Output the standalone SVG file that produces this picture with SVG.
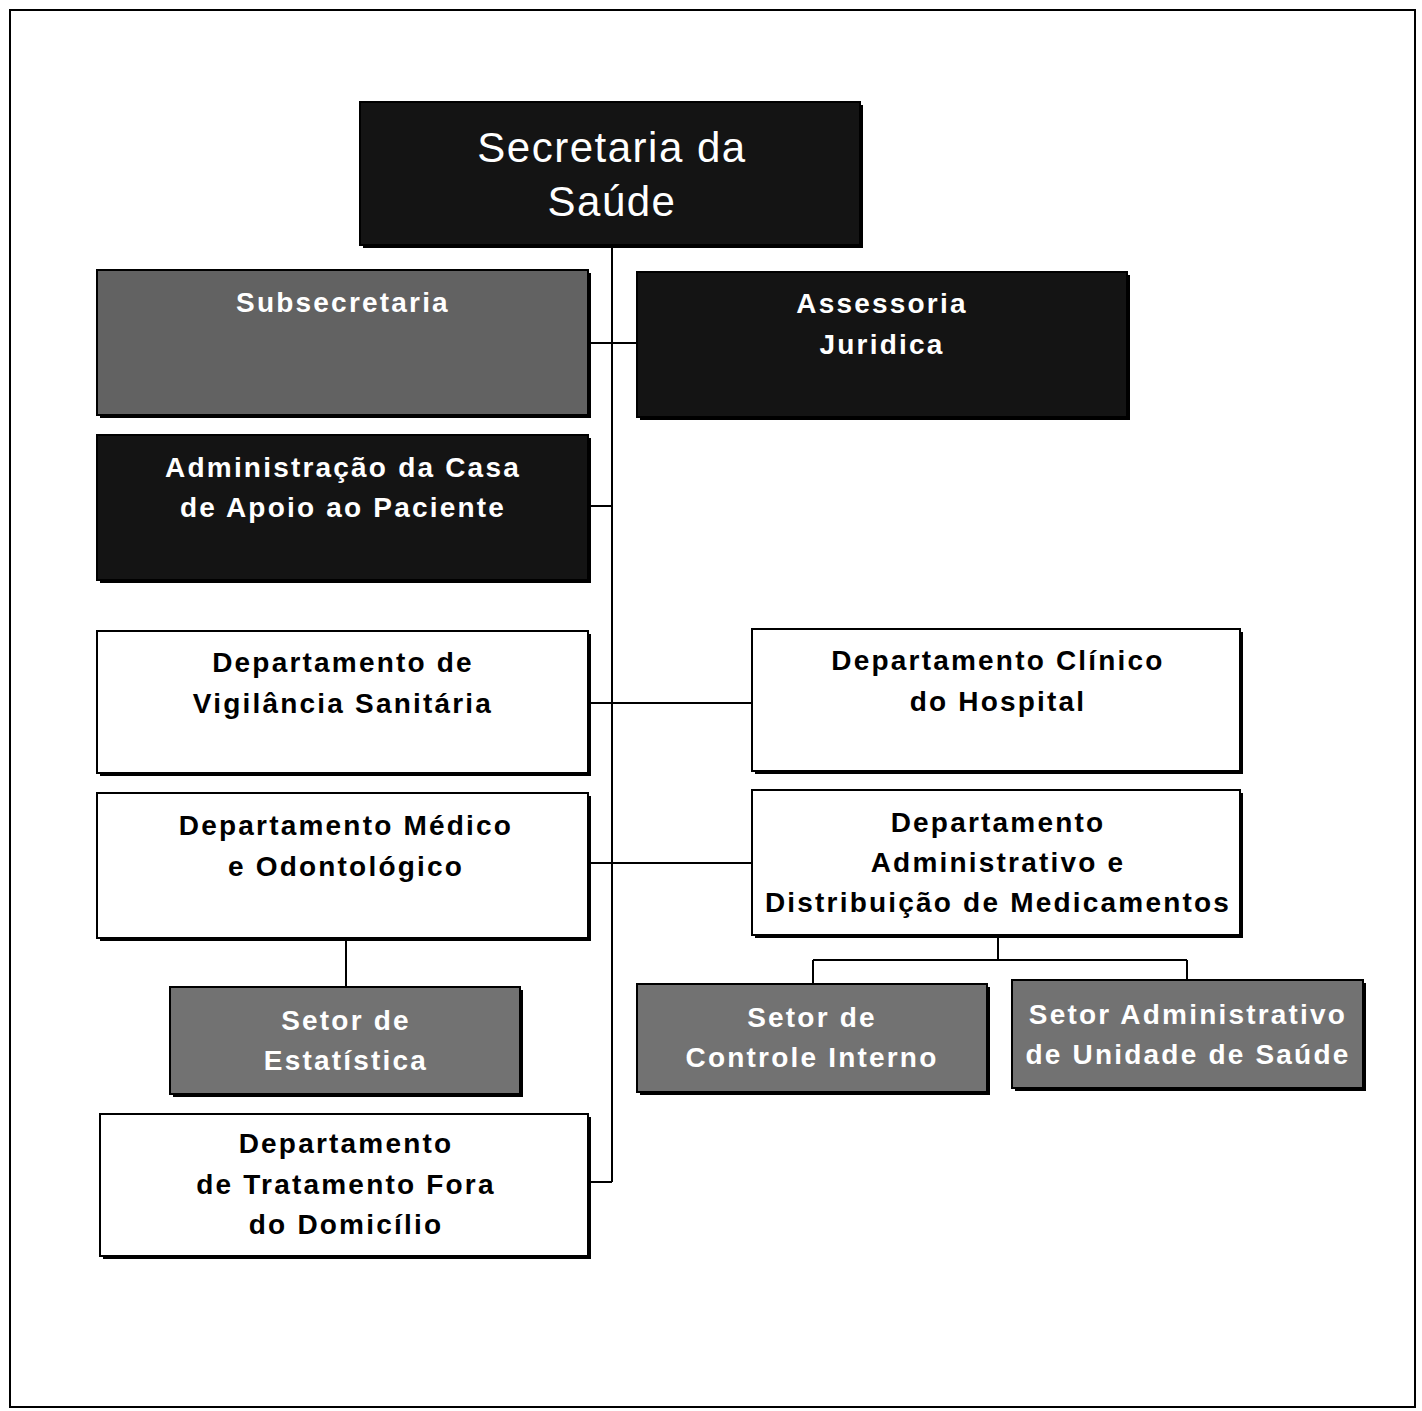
<svg xmlns="http://www.w3.org/2000/svg" width="1422" height="1411" viewBox="0 0 1422 1411">
<style>
.t{font-family:"Liberation Sans",Arial,sans-serif;font-weight:bold;font-size:28px;letter-spacing:2.2px;text-anchor:middle}
.big{font-weight:normal;font-size:42px;letter-spacing:1.5px}
.w{fill:#fff}
.b{fill:#000}
.dark{fill:#141414;stroke:#000;stroke-width:2}
.gray{fill:#626262;stroke:#000;stroke-width:2}
.gray2{fill:#727272;stroke:#000;stroke-width:2}
.white{fill:#fff;stroke:#000;stroke-width:2}
.sh{fill:#000}
.c{stroke:#000;stroke-width:2;fill:none}
</style>
<rect x="0" y="0" width="1422" height="1411" fill="#fff"/>
<rect x="10" y="10" width="1405" height="1397" fill="none" stroke="#000" stroke-width="2"/>
<g id="connectors">
<path class="c" d="M612,245 V1182"/>
<path class="c" d="M588,343 H637"/>
<path class="c" d="M588,506 H612"/>
<path class="c" d="M588,703 H752"/>
<path class="c" d="M588,863 H752"/>
<path class="c" d="M588,1182 H612"/>
<path class="c" d="M346,938 V987"/>
<path class="c" d="M998,935 V960 M813,960 H1187 M813,960 V984 M1187,960 V980"/>
</g>
<g id="n-secretaria">
<rect class="sh" x="363" y="105" width="500" height="143"/>
<rect class="dark" x="360" y="102" width="500" height="143"/>
<text class="t big w" x="612" y="162">Secretaria da</text>
<text class="t big w" x="612" y="216">Saúde</text>
</g>
<g id="n-subsecretaria">
<rect class="sh" x="100" y="273" width="491" height="145"/>
<rect class="gray" x="97" y="270" width="491" height="145"/>
<text class="t w" x="343" y="312">Subsecretaria</text>
</g>
<g id="n-assessoria">
<rect class="sh" x="640" y="275" width="490" height="145"/>
<rect class="dark" x="637" y="272" width="490" height="145"/>
<text class="t w" x="882" y="313">Assessoria</text>
<text class="t w" x="882" y="354">Juridica</text>
</g>
<g id="n-casa">
<rect class="sh" x="100" y="438" width="491" height="145"/>
<rect class="dark" x="97" y="435" width="491" height="145"/>
<text class="t w" x="343" y="477">Administração da Casa</text>
<text class="t w" x="343" y="517">de Apoio ao Paciente</text>
</g>
<g id="n-vigilancia">
<rect class="sh" x="100" y="634" width="491" height="142"/>
<rect class="white" x="97" y="631" width="491" height="142"/>
<text class="t b" x="343" y="672">Departamento de</text>
<text class="t b" x="343" y="713">Vigilância Sanitária</text>
</g>
<g id="n-clinico">
<rect class="sh" x="755" y="632" width="488" height="142"/>
<rect class="white" x="752" y="629" width="488" height="142"/>
<text class="t b" x="998" y="670">Departamento Clínico</text>
<text class="t b" x="998" y="711">do Hospital</text>
</g>
<g id="n-medico">
<rect class="sh" x="100" y="796" width="491" height="145"/>
<rect class="white" x="97" y="793" width="491" height="145"/>
<text class="t b" x="346" y="835">Departamento Médico</text>
<text class="t b" x="346" y="876">e Odontológico</text>
</g>
<g id="n-administrativo">
<rect class="sh" x="755" y="793" width="488" height="145"/>
<rect class="white" x="752" y="790" width="488" height="145"/>
<text class="t b" x="998" y="832">Departamento</text>
<text class="t b" x="998" y="872">Administrativo e</text>
<text class="t b" x="998" y="912">Distribuição de Medicamentos</text>
</g>
<g id="n-estatistica">
<rect class="sh" x="173" y="990" width="350" height="107"/>
<rect class="gray2" x="170" y="987" width="350" height="107"/>
<text class="t w" x="346" y="1030">Setor de</text>
<text class="t w" x="346" y="1070">Estatística</text>
</g>
<g id="n-controle">
<rect class="sh" x="640" y="987" width="350" height="108"/>
<rect class="gray2" x="637" y="984" width="350" height="108"/>
<text class="t w" x="812" y="1027">Setor de</text>
<text class="t w" x="812" y="1067">Controle Interno</text>
</g>
<g id="n-unidade">
<rect class="sh" x="1015" y="983" width="351" height="108"/>
<rect class="gray2" x="1012" y="980" width="351" height="108"/>
<text class="t w" x="1188" y="1024">Setor Administrativo</text>
<text class="t w" x="1188" y="1064">de Unidade de Saúde</text>
</g>
<g id="n-tratamento">
<rect class="sh" x="103" y="1117" width="488" height="142"/>
<rect class="white" x="100" y="1114" width="488" height="142"/>
<text class="t b" x="346" y="1153">Departamento</text>
<text class="t b" x="346" y="1194">de Tratamento Fora</text>
<text class="t b" x="346" y="1234">do Domicílio</text>
</g>
</svg>
